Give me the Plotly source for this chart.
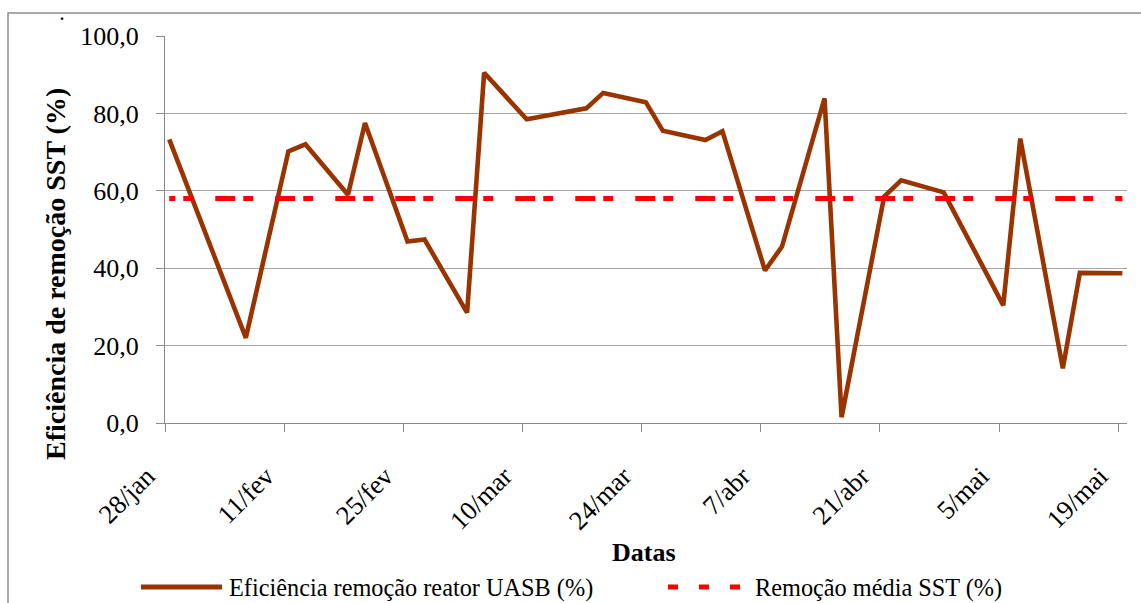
import pandas as pd
import plotly.graph_objects as go

# ---- data ----
DATAS = ["2008-01-28", "2008-02-06", "2008-02-11", "2008-02-13", "2008-02-18",
         "2008-02-20", "2008-02-25", "2008-02-27", "2008-03-03", "2008-03-05",
         "2008-03-10", "2008-03-17", "2008-03-19", "2008-03-24", "2008-03-26",
         "2008-03-31", "2008-04-02", "2008-04-07", "2008-04-09", "2008-04-14",
         "2008-04-16", "2008-04-21", "2008-04-23", "2008-04-28", "2008-05-05",
         "2008-05-07", "2008-05-12", "2008-05-14", "2008-05-19"]
EFICIENCIA = [73.3, 22.0, 70.2, 72.0, 59.0, 77.5, 46.9, 47.4, 28.5, 90.5,
              78.5, 81.3, 85.3, 82.9, 75.5, 73.1, 75.4, 39.4, 45.6, 83.9,
              1.5, 58.5, 62.7, 59.6, 30.4, 73.5, 14.1, 38.8, 38.7]
MEDIA_SST = 58.0
TICK_DATAS = ["2008-01-28", "2008-02-11", "2008-02-25", "2008-03-10", "2008-03-24",
              "2008-04-07", "2008-04-21", "2008-05-05", "2008-05-19"]
TICK_LABELS = ["28/jan", "11/fev", "25/fev", "10/mar", "24/mar",
               "7/abr", "21/abr", "5/mai", "19/mai"]
SERIE1 = "Eficiência remoção reator UASB (%)"
SERIE2 = "Remoção média SST (%)"

# ---- layout geometry (pixels) ----
W, H = 1141, 603
L, R, T, B = 165, 14, 36, 180
PW, PH = W - L - R, H - T - B

def px(x):
    return (x - L) / PW

def py(y):
    return (H - B - y) / PH

FONT = "Liberation Serif, Times New Roman, serif"
BROWN = "#993300"
RED = "#FF0000"

# points placed in the middle of each day slot (date axis, between tick marks)
x_pts = pd.to_datetime(DATAS) + pd.Timedelta(hours=12)

fig = go.Figure()
fig.add_trace(go.Scatter(
    x=x_pts, y=EFICIENCIA, mode="lines", name=SERIE1,
    line=dict(color=BROWN, width=4.6), showlegend=False))
fig.add_trace(go.Scatter(
    x=[x_pts[0], x_pts[-1]], y=[MEDIA_SST, MEDIA_SST], mode="lines", name=SERIE2,
    line=dict(color=RED, width=5, dash="6px,8px,10px,22px,14px,0px"), showlegend=False))

x_start = pd.Timestamp(TICK_DATAS[0])
x_end = x_start + pd.Timedelta(days=113.04)

fig.update_layout(
    width=W, height=H,
    margin=dict(l=L, r=R, t=T, b=B),
    paper_bgcolor="white", plot_bgcolor="white",
    separators=", ",
    font=dict(family=FONT, size=26, color="black"),
    xaxis=dict(
        type="date", range=[x_start, x_end],
        tickmode="array", tickvals=TICK_DATAS, ticktext=TICK_LABELS,
        tickangle=-45, tickfont=dict(family=FONT, size=26.5, color="black"),
        ticklabelshift=-18, ticklabelstandoff=18,
        showgrid=False, zeroline=False,
        showline=True, linecolor="#8a8a8a", linewidth=1.3,
        ticks="outside", ticklen=8, tickcolor="#8a8a8a", tickwidth=1.3,
    ),
    yaxis=dict(
        range=[0, 100], dtick=20, tick0=0, tickformat=".1f",
        tickfont=dict(family=FONT, size=26, color="black"),
        showgrid=True, gridcolor="#a6a6a6", gridwidth=1.2,
        zeroline=False,
        showline=True, linecolor="#8a8a8a", linewidth=1.3,
        ticks="outside", ticklen=8, tickcolor="#8a8a8a", tickwidth=1.3,
        ticklabelstandoff=12,
    ),
)

annotations = [
    dict(text="<b>Eficiência de remoção SST (%)</b>", textangle=-90,
         x=px(55), y=py(274), xref="paper", yref="paper",
         xanchor="center", yanchor="middle", showarrow=False,
         font=dict(family=FONT, size=28, color="black")),
    dict(text="<b>Datas</b>", x=px(644), y=py(552), xref="paper", yref="paper",
         xanchor="center", yanchor="middle", showarrow=False,
         font=dict(family=FONT, size=26, color="black")),
    dict(text=SERIE1, x=px(227), y=py(588), xref="paper", yref="paper",
         xanchor="left", yanchor="middle", showarrow=False,
         font=dict(family=FONT, size=24.3, color="black")),
    dict(text=SERIE2, x=px(753), y=py(588), xref="paper", yref="paper",
         xanchor="left", yanchor="middle", showarrow=False,
         font=dict(family=FONT, size=24.3, color="black")),
    dict(text="<b>.</b>", x=px(62), y=py(14), xref="paper", yref="paper",
         xanchor="center", yanchor="middle", showarrow=False,
         font=dict(family=FONT, size=16, color="black")),
]

shapes = [
    dict(type="rect", xref="paper", yref="paper",
         x0=px(8), x1=px(1170), y0=py(630), y1=py(13),
         line=dict(color="#8c8c8c", width=1.5), fillcolor="rgba(0,0,0,0)", layer="below"),
    dict(type="line", xref="paper", yref="paper",
         x0=px(141), x1=px(222), y0=py(587), y1=py(587),
         line=dict(color=BROWN, width=5)),
    dict(type="line", xref="paper", yref="paper",
         x0=px(668), x1=px(740), y0=py(587), y1=py(587),
         line=dict(color=RED, width=5, dash="10px,21px")),
]

fig.update_layout(annotations=annotations, shapes=shapes)
fig.write_html(
    "out.html",
    config={"displayModeBar": False},
    post_script="document.body.style.margin='0';document.body.style.overflow='hidden';",
)
